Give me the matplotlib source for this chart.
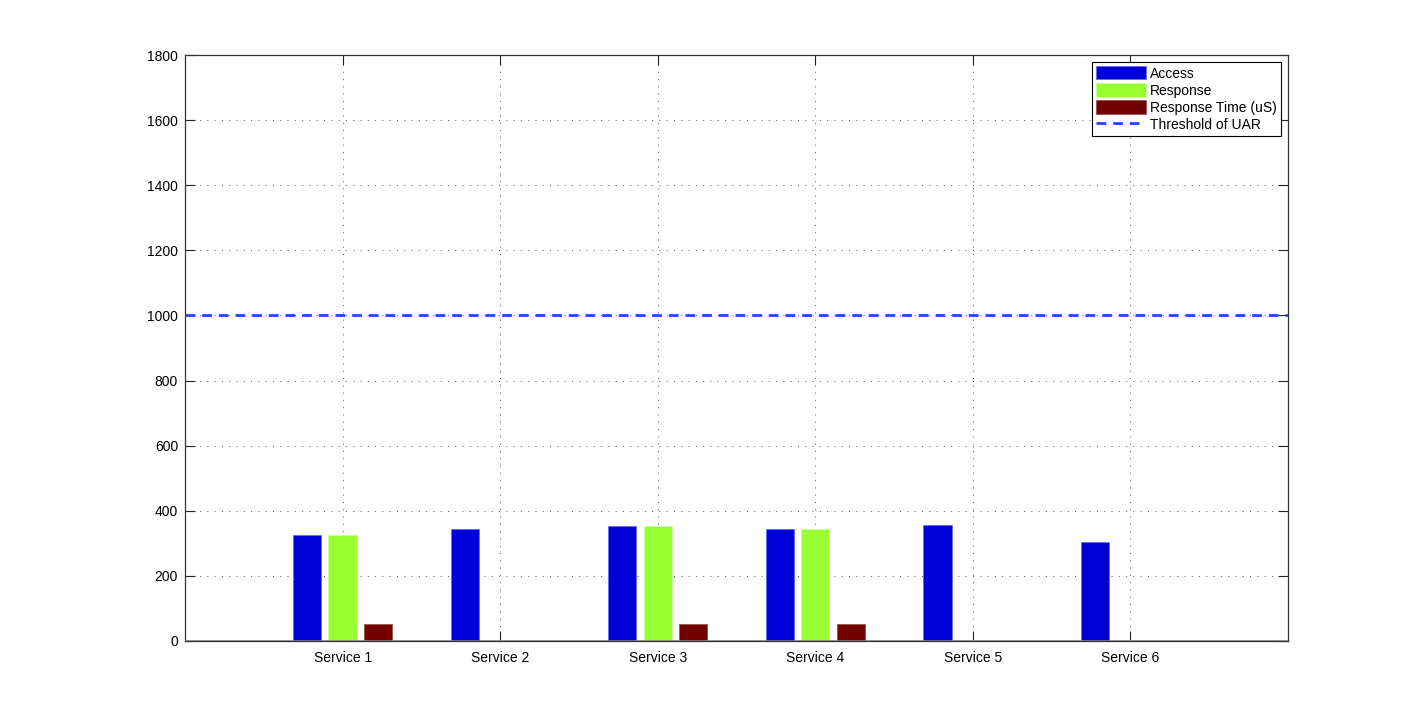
import numpy as np
import matplotlib
matplotlib.use("Agg")
import matplotlib.pyplot as plt

services = ["Service 1", "Service 2", "Service 3", "Service 4", "Service 5", "Service 6"]
access = [325, 345, 352, 344, 356, 304]
response = [325, 0, 352, 344, 0, 0]
resp_time = [53, 0, 51, 51, 0, 0]
threshold = 1000

plt.rcParams["font.family"] = ["Liberation Sans", "DejaVu Sans"]
plt.rcParams["font.size"] = 10

fig = plt.figure(figsize=(14.22, 7.21), dpi=100)
ax = fig.add_axes([0.1301, 0.111, 0.7757, 0.8127])

x = np.arange(1, len(services) + 1)
w = 0.18; off = 0.225
ax.bar(x - off, access, w, color="#0000d8", edgecolor="#6a6aff", linewidth=0.6, label="Access", zorder=3)
ax.bar(x, response, w, color="#99ff33", edgecolor="#c8ffa0", linewidth=0.6, label="Response", zorder=3)
ax.bar(x + off, resp_time, w, color="#720000", edgecolor="#a05050", linewidth=0.6, label="Response Time (uS)", zorder=3)
ax.axhline(threshold, color="#2244ff", ls=(0, (3.5, 2.5)), lw=2, label="Threshold of UAR", zorder=4)
ax.axhline(0, color="#808080", lw=1.2, zorder=5)

ax.set_xlim(0, 7)
ax.set_ylim(0, 1800)
ax.set_xticks(x)
ax.set_xticklabels(services)
ax.set_yticks(np.arange(0, 1801, 200))
ax.tick_params(direction="in", top=True, right=True, length=7, width=0.8,
               color="#222222", pad=5)
ax.tick_params(axis="x", pad=7)
ax.grid(True, ls=(0, (1, 6.5)), color="#555555", lw=0.7, zorder=0)
for s in ax.spines.values():
    s.set_linewidth(0.9)
    s.set_color("#333333")

# legend: bars first, threshold last (as in the original)
h, l = ax.get_legend_handles_labels()
order = [1, 2, 3, 0]
leg = ax.legend([h[i] for i in order], [l[i] for i in order], loc="upper right",
                fancybox=False, edgecolor="black", framealpha=1,
                borderaxespad=0.5, handlelength=3.6, handleheight=1.1, handletextpad=0.3,
                labelspacing=0.2, borderpad=0.3)
leg.get_frame().set_linewidth(0.8)

fig.savefig("out.png", dpi=100)
